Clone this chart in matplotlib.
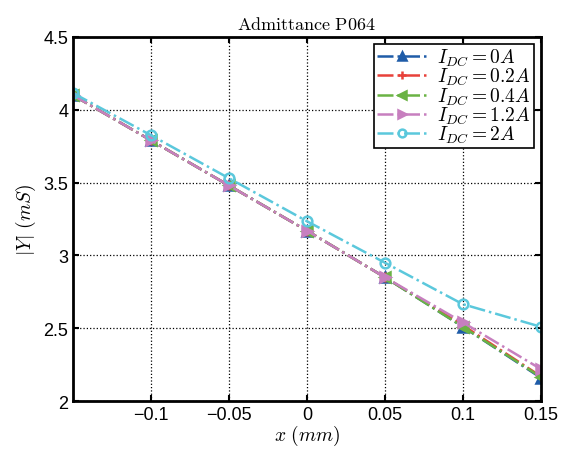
import numpy as np
import matplotlib
matplotlib.use("Agg")
import matplotlib.pyplot as plt

plt.rcParams['mathtext.fontset'] = 'cm'
plt.rcParams['font.family'] = ['Liberation Sans', 'DejaVu Sans']

# posiciones (mm)
x = [-0.15, -0.1, -0.05, 0, 0.05, 0.1, 0.15]

# |Y| (mS) para cada corriente
y_0a = [4.10, 3.79, 3.48, 3.17, 2.85, 2.51, 2.16]
y_02a = [4.10, 3.79, 3.48, 3.17, 2.85, 2.52, 2.17]
y_04a = [4.10, 3.79, 3.48, 3.17, 2.85, 2.51, 2.165]
y_12a = [4.10, 3.79, 3.48, 3.17, 2.85, 2.54, 2.22]
y_2a = [4.115, 3.825, 3.53, 3.235, 2.95, 2.665, 2.51]

labels = [r'$I_{DC}=0A$', r'$I_{DC}=0.2A$', r'$I_{DC}=0.4A$', r'$I_{DC}=1.2A$', r'$I_{DC}=2A$']
series = [y_0a, y_02a, y_04a, y_12a, y_2a]
colores = ['#1f5ca8', '#e8413a', '#6ab344', '#c77fbf', '#5bc8dc']
marcadores = ['^', '+', '<', '>', 'o']

fig = plt.figure(figsize=(5.68, 4.52), dpi=100)
ax = fig.add_axes([0.1285, 0.1106, 0.8235, 0.8054])

for ys, c, m, lab in zip(series, colores, marcadores, labels):
    if m == 'o':
        ax.plot(x, ys, linestyle='-.', color=c, linewidth=1.8, marker=m, markersize=7,
                markerfacecolor='none', markeredgewidth=1.8, label=lab)
    else:
        ax.plot(x, ys, linestyle='-.', color=c, linewidth=1.8, marker=m, markersize=7,
                markeredgewidth=1.8, label=lab)

ax.set_xlim(-0.15, 0.15)
ax.set_ylim(2, 4.5)
ax.set_xticks([-0.1, -0.05, 0, 0.05, 0.1, 0.15])
ax.set_xticklabels(['\u22120.1', '\u22120.05', '0', '0.05', '0.1', '0.15'])
ax.set_yticks([2, 2.5, 3, 3.5, 4, 4.5])
ax.set_yticklabels(['2', '2.5', '3', '3.5', '4', '4.5'])
ax.grid(True, linestyle=':', color='black', linewidth=0.9)
ax.tick_params(direction='in', top=True, right=True, labelsize=13, width=1.5, length=4)
for s in ax.spines.values():
    s.set_linewidth(2)

ax.set_title(r'$\mathrm{Admittance\ P064}$', fontsize=13)
ax.set_xlabel(r'$x\ (mm)$', fontsize=14, labelpad=0)
ax.set_ylabel(r'$|Y|\ (mS)$', fontsize=14, labelpad=4)

leg = ax.legend(loc='upper right', fontsize=14, fancybox=False, framealpha=1,
                edgecolor='black', borderaxespad=0.35, handlelength=2.6,
                labelspacing=-0.1, borderpad=0.15, handletextpad=0.5,
                markerscale=0.8)
leg.get_frame().set_linewidth(1.2)

fig.savefig('out.png', dpi=100)
